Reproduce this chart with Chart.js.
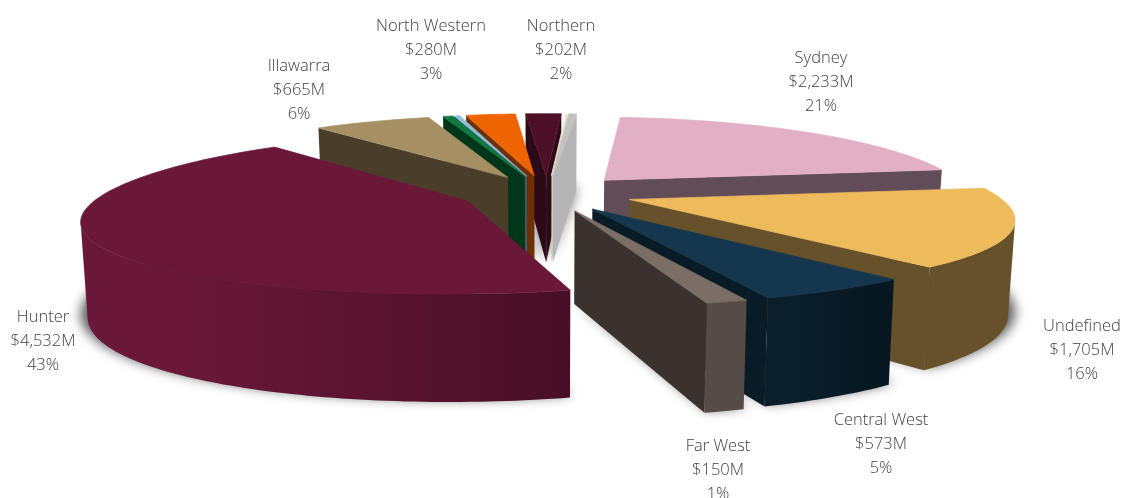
<!DOCTYPE html>
<html>
<head>
<meta charset="utf-8">
<title>Regions</title>
<script src="https://cdn.jsdelivr.net/npm/chart.js@4"></script>
<style>
  html, body { margin: 0; background: #fff; }
  canvas { display: block; }
</style>
</head>
<body>
<canvas id="pie" width="1125" height="498"></canvas>
<script>
// Slices run clockwise; the thin ones carry no label
const regions = ['Sydney', 'Undefined', 'Central West', 'Far West', 'Hunter', 'Illawarra', '', '', 'North Western', 'Northern', '', ''];
const amounts = [2233, 1705, 573, 150, 4532, 665, 55, 30, 280, 202, 10, 45];
const shares = [21, 16, 5, 1, 43, 6, null, null, 3, 2, null, null];

const topColors = ['#e2b0c4', '#edba5c', '#14374f', '#7a6e66', '#6b1838', '#a69063', '#0e7a40', '#8fbfdc', '#ee6400', '#4e1028', '#efe6d2', '#c2c2c2'];
const sideColors = ['#624c58', '#67512a', '#081b26', '#3a322e', '#4a0f26', '#4a3e2a', '#00361a', '#3d5a6b', '#6e3000', '#2d0a18', '#d8d0c0', '#b5b5b5'];
const rimLeft = ['#624c58', '#67512a', '#0a1e2b', '#564b45', '#6b1838', '#4a3e2a', '#00361a', '#3d5a6b', '#6e3000', '#2d0a18', '#d8d0c0', '#b5b5b5'];
const rimRight = ['#624c58', '#67512a', '#07161f', '#564b45', '#470f25', '#4a3e2a', '#00361a', '#3d5a6b', '#6e3000', '#2d0a18', '#d8d0c0', '#b5b5b5'];

// Centre of each three line label block
const labelSpots = [[821, 82], [1082, 350], [881, 444], [718, 470], [43, 341], [299, 90], null, null, [431, 50], [561, 50], null, null];

// Camera used to lay the flat pie down
const view = { cx: 547, cy: 193, rx: 366, ry: 76, depth: 90 };

function project(u, v, dropped) {
    const w = 1 / (1 - 0.15 * v);
    const wx = 1 + 0.21 * v + 0.045 * v * v;
    let x = view.cx + view.rx * u * wx;
    let y = view.cy + view.ry * v * w;
    if (dropped) {
        x = view.cx + (x - view.cx) * 0.985;
        y += view.depth * w;
    }
    return { x, y, u, v };
}

// Turns an arc element into top face points: apex first, then the rim
function sliceOutline(arc) {
    const { startAngle, endAngle, outerRadius } = arc;
    const mid = (startAngle + endAngle) / 2;
    const shift = arc.options.offset / 4 / outerRadius;
    const ou = Math.cos(mid) * shift;
    const ov = Math.sin(mid) * shift;
    const steps = Math.max(2, Math.ceil((endAngle - startAngle) / 0.02));
    const rim = [];
    for (let i = 0; i <= steps; i++) {
        const a = startAngle + (endAngle - startAngle) * i / steps;
        rim.push(project(ou + Math.cos(a), ov + Math.sin(a)));
    }
    return { apex: project(ou, ov), rim, mid };
}

function fillPath(ctx, pts, fill) {
    ctx.beginPath();
    pts.forEach((p, i) => i ? ctx.lineTo(p.x, p.y) : ctx.moveTo(p.x, p.y));
    ctx.closePath();
    ctx.fillStyle = fill;
    ctx.fill();
}

const down = p => project(p.u, p.v, true);

function drawWall(ctx, a, b, color) {
    fillPath(ctx, [a, b, down(b), down(a)], color);
}

function drawSlice(ctx, outline, i) {
    const { apex, rim } = outline;
    const first = rim[0];
    const last = rim[rim.length - 1];

    // Cut faces, only where they turn towards the viewer
    if (first.x < apex.x) drawWall(ctx, apex, first, sideColors[i]);
    if (apex.x < last.x) drawWall(ctx, last, apex, sideColors[i]);

    // Curved outer wall: the part of the rim running right to left
    const front = rim.filter((p, k) => k < rim.length - 1 ? rim[k + 1].x < p.x : rim[k - 1].x > p.x);
    if (front.length > 1) {
        const right = front[0].x;
        const left = front[front.length - 1].x;
        const shade = ctx.createLinearGradient(left, 0, right, 0);
        shade.addColorStop(0.2, rimLeft[i]);
        shade.addColorStop(1, rimRight[i]);
        fillPath(ctx, front.concat(front.map(down).reverse()), shade);
    }

    // Stroke closes the hairline seam against the wall
    fillPath(ctx, [apex].concat(rim), topColors[i]);
    ctx.strokeStyle = topColors[i];
    ctx.lineWidth = 0.7;
    ctx.stroke();
}

// Floor shadow: the base is drawn off canvas so that only its blur lands on the page
function drawShadow(ctx, o) {
    const away = 3000;
    const base = [down(o.apex)].concat(o.rim.map(down)).map(p => ({
        x: view.cx + (p.x - view.cx) * 1.015 - away,
        y: p.y - 3
    }));
    ctx.save();
    ctx.shadowColor = 'rgba(0,0,0,0.65)';
    ctx.shadowBlur = 12;
    ctx.shadowOffsetX = away;
    fillPath(ctx, base, '#000');
    ctx.restore();
}

const pie3d = {
    id: 'pie3d',
    beforeDatasetDraw(chart, args) {
        const ctx = chart.ctx;
        const outlines = args.meta.data.map((arc, i) => ({ i, ...sliceOutline(arc) }));

        outlines.forEach(o => drawShadow(ctx, o));

        // Back slices first
        outlines.slice().sort((a, b) => Math.sin(a.mid) - Math.sin(b.mid))
            .forEach(o => drawSlice(ctx, o, o.i));
        return false;
    },
    afterDraw(chart) {
        const ctx = chart.ctx;
        ctx.save();
        ctx.font = '300 16.5px "Open Sans"';
        ctx.fillStyle = '#404040';
        ctx.textAlign = 'center';
        ctx.textBaseline = 'middle';
        regions.forEach((name, i) => {
            if (!labelSpots[i]) return;
            const [x, y] = labelSpots[i];
            ctx.fillText(name, x, y - 24);
            ctx.fillText('$' + amounts[i].toLocaleString('en-US') + 'M', x, y);
            ctx.fillText(shares[i] + '%', x, y + 24);
        });
        ctx.restore();
    }
};

new Chart(document.getElementById('pie'), {
    type: 'pie',
    data: {
        labels: regions,
        datasets: [{
            data: amounts,
            backgroundColor: topColors,
            offset: 160,
            borderWidth: 0
        }]
    },
    options: {
        responsive: false,
        animation: false,
        rotation: 4.8,
        plugins: { legend: { display: false }, tooltip: { enabled: false } }
    },
    plugins: [pie3d]
});
</script>
</body>
</html>
